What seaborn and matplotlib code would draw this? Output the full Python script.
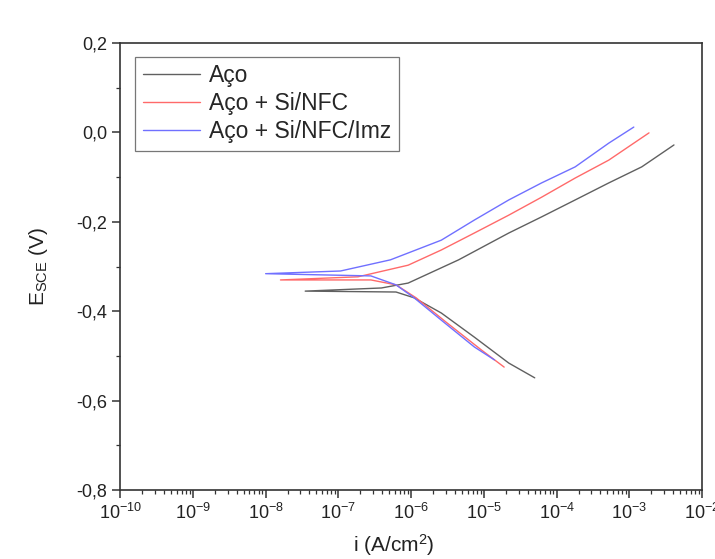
import numpy as np
import pandas as pd
import matplotlib
matplotlib.use("Agg")
import matplotlib.pyplot as plt
from matplotlib.ticker import FuncFormatter, MultipleLocator, LogLocator
import seaborn as sns

sns.set_style("ticks")
plt.rcParams['font.family'] = ['Liberation Sans', 'DejaVu Sans']
plt.rcParams['mathtext.fontset'] = 'custom'
plt.rcParams['mathtext.rm'] = 'Liberation Sans'
plt.rcParams['mathtext.it'] = 'Liberation Sans'

labels = ['Aço', 'Aço + Si/NFC', 'Aço + Si/NFC/Imz']
colors = ['#606060', '#ff6a6a', '#7070ff']

# polarization curves, cathodic end -> Ecorr -> anodic end
i_aco = [5.0e-5, 2.2e-5, 7.4e-6, 2.6e-6, 1.1e-6, 6.2e-7, 3.5e-8,
         3.9e-7, 9.1e-7, 4.5e-6, 2.2e-5, 6.2e-5, 1.8e-4, 5.2e-4, 1.48e-3, 4.1e-3]
e_aco = [-0.549, -0.516, -0.458, -0.404, -0.370, -0.357, -0.355,
         -0.348, -0.337, -0.285, -0.225, -0.189, -0.151, -0.113, -0.077, -0.028]

i_nfc = [1.9e-5, 9.3e-6, 3.0e-6, 1.17e-6, 6.2e-7, 2.8e-7, 1.6e-8,
         1.86e-7, 9.1e-7, 2.6e-6, 7.4e-6, 2.2e-5, 6.2e-5, 1.8e-4, 5.2e-4, 1.86e-3]
e_nfc = [-0.525, -0.487, -0.424, -0.370, -0.341, -0.330, -0.330,
         -0.323, -0.297, -0.263, -0.225, -0.185, -0.145, -0.102, -0.062, -0.001]

i_imz = [1.4e-5, 7.4e-6, 2.6e-6, 1.1e-6, 6.2e-7, 2.8e-7, 1.0e-8,
         1.07e-7, 5.2e-7, 2.6e-6, 7.4e-6, 2.2e-5, 6.2e-5, 1.8e-4, 5.2e-4, 1.15e-3]
e_imz = [-0.509, -0.480, -0.420, -0.370, -0.341, -0.321, -0.316,
         -0.310, -0.285, -0.241, -0.196, -0.151, -0.113, -0.077, -0.024, 0.012]

frames = []
for lab, i, e in zip(labels, [i_aco, i_nfc, i_imz], [e_aco, e_nfc, e_imz]):
    frames.append(pd.DataFrame({'i': i, 'E': e, 'amostra': lab}))
df = pd.concat(frames, ignore_index=True)

fig = plt.figure(figsize=(7.15, 5.59), dpi=100)
ax = fig.add_axes([0.168, 0.1234, 0.814, 0.7996])

sns.lineplot(data=df, x='i', y='E', hue='amostra', hue_order=labels, palette=colors,
             sort=False, estimator=None, units='amostra', lw=1.0, ax=ax, legend=True)

ax.set_xscale('log')
ax.set_xlim(1e-10, 1e-2)
ax.set_ylim(-0.8, 0.2)
ax.yaxis.set_major_locator(MultipleLocator(0.2))
ax.yaxis.set_minor_locator(MultipleLocator(0.1))
ax.yaxis.set_major_formatter(FuncFormatter(lambda v, p: ('%.1f' % v).replace('.', ',').replace('-0,0', '0,0')))
ax.xaxis.set_major_locator(LogLocator(base=10, numticks=20))
ax.xaxis.set_minor_locator(LogLocator(base=10, subs=np.arange(2, 10), numticks=20))

for s in ax.spines.values():
    s.set_color('#333333')
    s.set_linewidth(1.2)
ax.tick_params(which='major', direction='out', length=6, width=1.1, color='#333333',
               labelsize=13, labelcolor='#222222', top=False, right=False)
ax.tick_params(which='minor', direction='out', length=3, width=0.9, color='#333333',
               top=False, right=False)

ax.set_xlabel('i (A/cm$^2$)', fontsize=15, color='#222222')
ax.xaxis.set_label_coords(0.47, -0.095)
ax.set_ylabel('E$_{SCE}$ (V)', fontsize=15, color='#222222')
ax.yaxis.set_label_coords(-0.12, 0.5)

leg = ax.legend(loc='upper left', bbox_to_anchor=(0.026, 0.969), borderaxespad=0,
                fontsize=16.5, frameon=True, fancybox=False, handlelength=2.5,
                handletextpad=0.4, labelspacing=0.22, borderpad=0.32, title=None)
leg.get_frame().set_edgecolor('#555555')
leg.get_frame().set_linewidth(0.9)

fig.savefig('out.png', dpi=100)
